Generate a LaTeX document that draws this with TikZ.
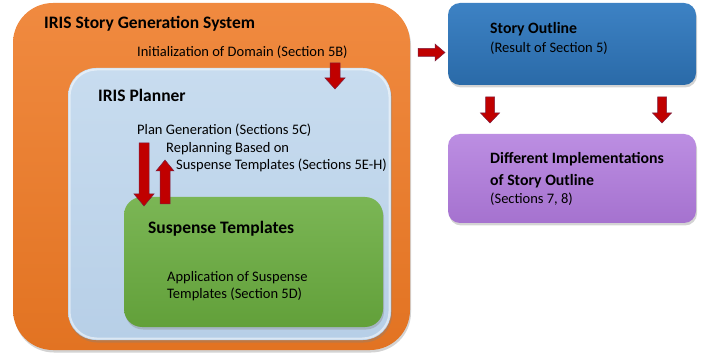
\documentclass[tikz,border=0pt]{standalone}
\usepackage{fontspec}
\setmainfont{Carlito}
\usetikzlibrary{shadows}

\definecolor{orangeTop}{HTML}{F08A40}
\definecolor{orangeBot}{HTML}{E27322}
\definecolor{plannerTop}{HTML}{C8DCEF}
\definecolor{plannerBot}{HTML}{B7CFE7}
\definecolor{greenTop}{HTML}{7BB655}
\definecolor{greenBot}{HTML}{62A03A}
\definecolor{blueTop}{HTML}{3D82C4}
\definecolor{blueBot}{HTML}{2A6AA8}
\definecolor{purpleTop}{HTML}{BC8EE2}
\definecolor{purpleBot}{HTML}{A572CF}
\definecolor{arrowRed}{HTML}{C00000}
\definecolor{arrowEdge}{HTML}{7A2040}

\tikzset{
  panel/.style={drop shadow={opacity=0.35,shadow xshift=1pt,shadow yshift=-2.5pt}},
  heading/.style={anchor=base west,font=\bfseries\fontsize{17.5}{20}\selectfont,inner sep=0pt},
  subheading/.style={anchor=base west,font=\bfseries\fontsize{15.8}{19}\selectfont,inner sep=0pt},
  note/.style={anchor=base west,font=\fontsize{14.5}{17}\selectfont,inner sep=0pt},
  blockarrow/.style={fill=arrowRed,draw=arrowEdge,line width=0.5pt,line join=miter},
}

% vertical block arrow: #1 = centre x, #2 = tail y, #3 = tip y, #4 = half shaft, #5 = half head, #6 = head length
\newcommand\vblockarrow[6]{%
  \draw[blockarrow] (#1-#4,#2) -- (#1+#4,#2) -- (#1+#4,#3-#6) -- (#1+#5,#3-#6)
    -- (#1,#3) -- (#1-#5,#3-#6) -- (#1-#4,#3-#6) -- cycle;}

\begin{document}
\begin{tikzpicture}[x=1pt,y=-1pt]
\useasboundingbox (0,0) rectangle (710,358);

% outer system panel
\path[panel,top color=orangeTop,bottom color=orangeBot,rounded corners=40pt]
  (13,3) rectangle (410,350);
% planner panel
\path[panel,top color=plannerTop,bottom color=plannerBot,rounded corners=28pt]
  (68,68) rectangle (391,340);
\draw[white,opacity=0.5,line width=2pt,rounded corners=27pt] (69.5,69.5) rectangle (389.5,338.5);
% suspense templates panel
\path[panel,top color=greenTop,bottom color=greenBot,rounded corners=18pt]
  (124,197) rectangle (383,327);
% story outline
\path[panel,top color=blueTop,bottom color=blueBot,rounded corners=12pt]
  (448,3) rectangle (696,85);
% implementations
\path[panel,top color=purpleTop,bottom color=purpleBot,rounded corners=12pt]
  (448,134) rectangle (696,223);

% labels
\node[heading] (sysT) at (44,29) {IRIS Story Generation System};
\node[note] (init) at (137,57) {Initialization of Domain (Section 5B)};
\node[heading] (planT) at (98,102) {IRIS Planner};
\node[note] (plangen) at (137,135) {Plan Generation (Sections 5C)};
\node[note] (replan1) at (166,153) {Replanning Based on};
\node[note] (replan2) at (176,170) {Suspense Templates (Sections 5E-H)};
\node[heading] (suspT) at (148,234) {Suspense Templates};
\node[note] (app1) at (167,282) {Application of Suspense};
\node[note] (app2) at (167,299) {Templates (Section 5D)};
\node[subheading] (outT) at (490,34) {Story Outline};
\node[note] (outN) at (490,53) {(Result of Section 5)};
\node[subheading] (implT1) at (490,164) {Different Implementations};
\node[subheading] (implT2) at (490,186) {of Story Outline};
\node[note] (implN) at (490,204) {(Sections 7, 8)};

% block arrows
\vblockarrow{335}{63}{89}{5}{10}{11}
\vblockarrow{144}{143}{206}{5}{10}{12}
\vblockarrow{165}{204}{160}{5}{9}{-11}
\vblockarrow{490}{97}{123}{4.5}{9.5}{10}
\vblockarrow{662}{97}{123}{4.5}{9.5}{10}
\draw[blockarrow] (418,48.5) -- (435,48.5) -- (435,44) -- (445,52.5) -- (435,61) -- (435,56.5) -- (418,56.5) -- cycle;
\end{tikzpicture}
\end{document}
